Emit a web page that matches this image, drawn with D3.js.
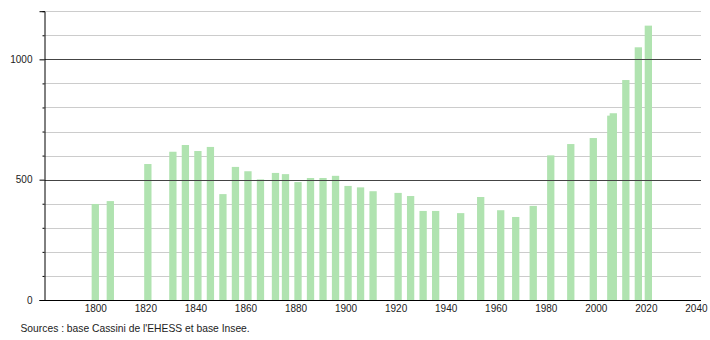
<!DOCTYPE html>
<html><head><meta charset="utf-8">
<script src="https://cdn.jsdelivr.net/npm/d3@7"></script>
<style>
html,body{margin:0;padding:0;background:#fff;}
svg text{font-family:"Liberation Sans",Arial,sans-serif;}
</style></head>
<body><svg id="c" width="710" height="340"></svg>
<script>
const years = [1800,1806,1821,1831,1836,1841,1846,1851,1856,1861,1866,1872,1876,1881,1886,1891,1896,1901,1906,1911,1921,1926,1931,1936,1946,1954,1962,1968,1975,1982,1990,1999,2006,2007,2012,2017,2021];
const population = [399,411,565,616,644,619,636,440,553,535,501,528,523,490,507,507,516,474,468,452,445,432,370,370,361,428,373,345,391,601,648,673,766,776,914,1050,1140];
const xTicks = [1800,1820,1840,1860,1880,1900,1920,1940,1960,1980,2000,2020,2040];
const yMajor = [0,500,1000];
const yMinor = [100,200,300,400,600,700,800,900,1100,1200];
const source = "Sources : base Cassini de l'EHESS et base Insee.";

const svg = d3.select("#c");
const x = d3.scaleLinear().domain([1800,2040]).range([95.3,695.9]);
const y = d3.scaleLinear().domain([0,1200]).range([300,11.2]);
const left = 44.5, right = 701;

// minor gridlines
svg.append("g").selectAll("line").data(yMinor).join("line")
  .attr("x1",left).attr("x2",right)
  .attr("y1",d=>Math.round(y(d))+0.5).attr("y2",d=>Math.round(y(d))+0.5)
  .attr("stroke","#cccccc").attr("stroke-width",1);

// bars
const bw = 7.3;
svg.append("g").selectAll("rect").data(years).join("rect")
  .attr("x",(d)=>x(d)-bw/2)
  .attr("width",bw)
  .attr("y",(d,i)=>y(population[i]))
  .attr("height",(d,i)=>y(0)-y(population[i]))
  .attr("fill","#b0e3b0");

// major gridlines
svg.append("g").selectAll("line").data(yMajor.slice(1)).join("line")
  .attr("x1",left).attr("x2",right)
  .attr("y1",d=>Math.round(y(d))+0.5).attr("y2",d=>Math.round(y(d))+0.5)
  .attr("stroke","#444").attr("stroke-width",1);

// y axis
const yAxis = d3.axisLeft(y).tickValues(yMajor).tickSize(5).tickPadding(7).tickFormat(d3.format("d"));
const gy = svg.append("g").attr("transform",`translate(${left},0)`).call(yAxis);
gy.select(".domain").attr("stroke","#000");
gy.selectAll("text").attr("font-size",10).attr("fill","#222");
const yMinorAxis = d3.axisLeft(y).tickValues(yMinor).tickSize(2).tickFormat("");
const gy2 = svg.append("g").attr("transform",`translate(${left},0)`).call(yMinorAxis);
gy2.select(".domain").remove();

// x axis
svg.append("line").attr("x1",left).attr("x2",right).attr("y1",300.5).attr("y2",300.5).attr("stroke","#000");
const xAxis = d3.axisBottom(x).tickValues(xTicks).tickSize(0).tickPadding(4).tickFormat(d3.format("d"));
const gx = svg.append("g").attr("transform","translate(0,300.5)").call(xAxis);
gx.select(".domain").remove();
gx.selectAll("text").attr("font-size",10).attr("fill","#222");

svg.append("text").attr("x",20.5).attr("y",332).attr("font-size",10.3).attr("fill","#222").text(source);
</script></body></html>
